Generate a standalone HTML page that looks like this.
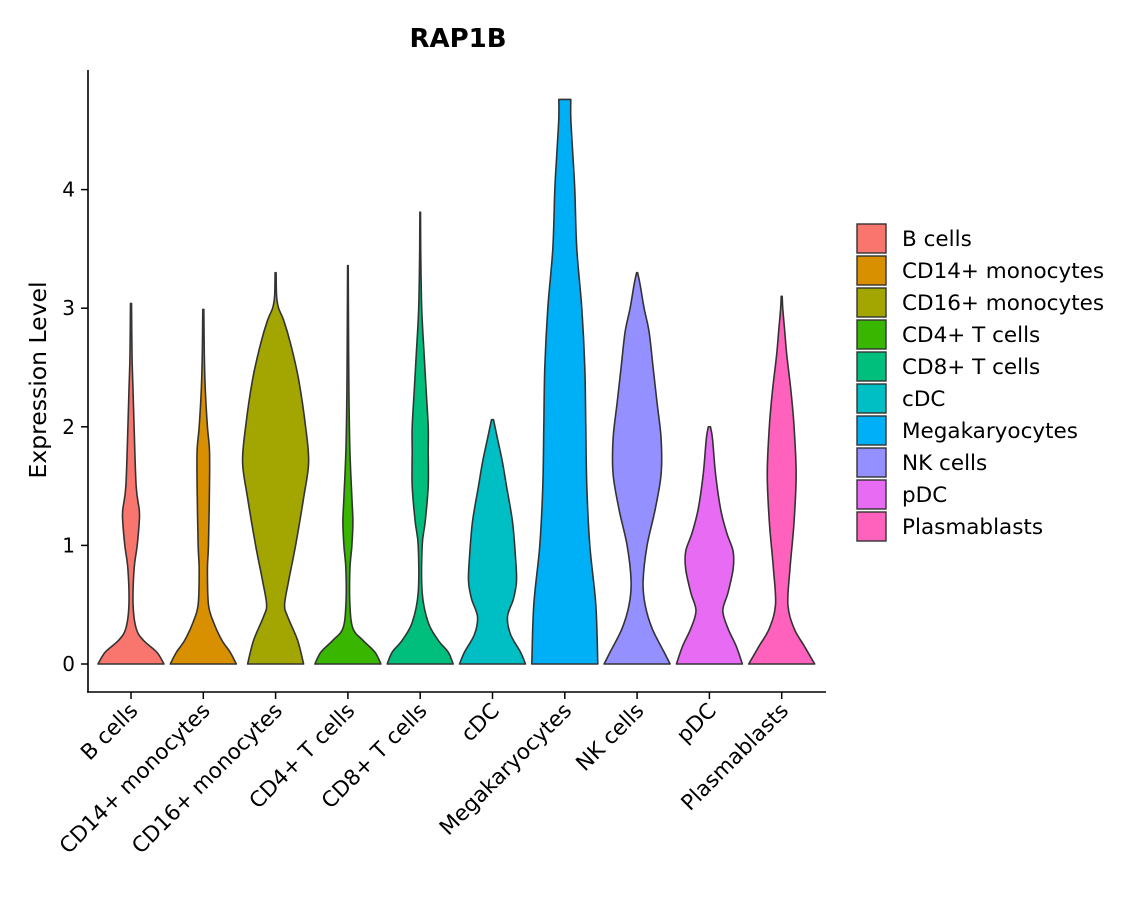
<!DOCTYPE html>
<html><head><meta charset="utf-8"><style>
body{margin:0;background:#fff;}
svg text{font-family:"DejaVu Sans","Liberation Sans",sans-serif;fill:#000;}
</style></head><body>
<svg id="chart" width="1140" height="900" viewBox="0 0 1140 900">
<text x="458" y="47" text-anchor="middle" font-size="26" font-weight="bold">RAP1B</text>
<text transform="translate(46,380) rotate(-90)" text-anchor="middle" font-size="23.5">Expression Level</text>
<g id="plot"></g>
<g id="legend"></g>
</svg>
<script>
const categories=["B cells","CD14+ monocytes","CD16+ monocytes","CD4+ T cells","CD8+ T cells","cDC","Megakaryocytes","NK cells","pDC","Plasmablasts"];
const colors=["#F8766D","#D89000","#A3A500","#39B600","#00BF7D","#00BFC4","#00B0F6","#9590FF","#E76BF3","#FF62BC"];
const yTicks=[0,1,2,3,4];
const levelsB=[0,0.1,0.2,0.3,0.5,0.8,1.0,1.2,1.3,1.5,2.0,2.3,2.6,3.04];
const densB=[32,25,12,5,2,3,6,8,8,5,3,2,1,0.5];
const levelsCD14=[0,0.1,0.2,0.35,0.5,0.8,1.0,1.5,1.8,2.0,2.3,2.6,2.99];
const densCD14=[32,26,18,10,5,4,5,6,6,4,2,1,0.5];
const levelsCD16=[0,0.2,0.4,0.5,0.7,1.0,1.4,1.7,2.0,2.4,2.7,2.9,3.0,3.1,3.3];
const densCD16=[28,22,12,9,13,20,28,33,30,23,15,8,3,1,0.5];
const levelsCD4=[0,0.1,0.2,0.3,0.5,0.8,1.0,1.2,1.4,1.8,2.3,3.0,3.36];
const densCD4=[33,27,15,5,2,2,4,5,4,2,1,0.5,0.3];
const levelsCD8=[0,0.1,0.2,0.35,0.6,1.0,1.2,1.5,1.8,2.0,2.3,2.6,3.0,3.5,3.81];
const densCD8=[33,28,18,8,2,2,5,8,8,8,6,4,1.5,0.5,0.3];
const levelsCDC=[0,0.1,0.25,0.4,0.55,0.7,0.9,1.2,1.5,1.7,1.9,2.06];
const densCDC=[33,28,18,15,21,24,23,20,14,10,5,1];
const levelsMK=[0,0.5,1.0,1.5,2.0,2.5,3.0,3.5,4.0,4.3,4.6,4.76];
const densMK=[33,31,25,22,21,20,17,12,10,8,6,6];
const levelsNK=[0,0.1,0.3,0.5,0.7,1.0,1.3,1.6,1.9,2.2,2.5,2.8,3.0,3.2,3.3];
const densNK=[33,27,15,8,6,10,18,24,24,20,16,12,7,3,0.5];
const levelsPDC=[0,0.15,0.3,0.45,0.6,0.8,0.95,1.1,1.3,1.6,1.9,2.0];
const densPDC=[32,26,18,13,18,23,23,17,11,6,3,1];
const levelsPB=[0,0.15,0.3,0.5,0.8,1.2,1.6,2.0,2.3,2.6,2.8,3.0,3.1];
const densPB=[32,22,12,6,8,12,14,12,9,5,3,1,0.5];
const levels=[levelsB,levelsCD14,levelsCD16,levelsCD4,levelsCD8,levelsCDC,levelsMK,levelsNK,levelsPDC,levelsPB];
const dens=[densB,densCD14,densCD16,densCD4,densCD8,densCDC,densMK,densNK,densPDC,densPB];

const NS="http://www.w3.org/2000/svg";
const y0=664,pxPerUnit=118.6;
const yScale=v=>y0-v*pxPerUnit;
const x0=131,step=72.3;
const xScale=i=>x0+i*step;
const maxHalf=33;
const plot=document.getElementById('plot');
function mk(tag,attrs,parent){const e=document.createElementNS(NS,tag);for(const k in attrs)e.setAttribute(k,attrs[k]);parent.appendChild(e);return e;}

categories.forEach((c,i)=>{
  const lv=levels[i],d=dens[i],m=Math.max(...d),cx=xScale(i);
  const right=lv.map((v,j)=>[cx+d[j]/m*maxHalf,yScale(v)]);
  const left=lv.map((v,j)=>[cx-d[j]/m*maxHalf,yScale(v)]).reverse();
  const n=right.length;
  let path=`M${left[n-1][0]},${left[n-1][1]}`;
  const seg=(pts)=>{
    for(let k=0;k<pts.length-1;k++){
      const p0=pts[Math.max(k-1,0)],p1=pts[k],p2=pts[k+1],p3=pts[Math.min(k+2,pts.length-1)];
      const c1=[p1[0]+(p2[0]-p0[0])/6,p1[1]+(p2[1]-p0[1])/6];
      const c2=[p2[0]-(p3[0]-p1[0])/6,p2[1]-(p3[1]-p1[1])/6];
      path+=` C${c1[0]},${c1[1]} ${c2[0]},${c2[1]} ${p2[0]},${p2[1]}`;
    }
  };
  path+=` L${right[0][0]},${right[0][1]}`;
  seg(right);
  path+=` L${left[0][0]},${left[0][1]}`;
  seg(left);
  path+='Z';
  const v=mk('path',{d:path,fill:colors[i],stroke:'#333','stroke-width':1.6,'stroke-linejoin':'round'},plot);
  
  
  const t=mk('line',{x1:cx,x2:cx,y1:692,y2:699,stroke:'#000','stroke-width':1.5},plot);
  
  
  const lab=mk('text',{transform:`translate(${cx+8},${712}) rotate(-45)`,'text-anchor':'end','font-size':21.5},plot);
  lab.textContent=c;
  
  
});
yTicks.forEach(v=>{
  const y=yScale(v);
  const t=mk('line',{x1:81,x2:88,y1:y,y2:y,stroke:'#000','stroke-width':1.5},plot);
  
  
  const l=mk('text',{x:75,y:y+7,'text-anchor':'end','font-size':20},plot);
  l.textContent=v;
  
  
});
const ax=mk('line',{x1:88,x2:88,y1:70,y2:692.8,stroke:'#000','stroke-width':1.6},plot);


const bx=mk('line',{x1:87.2,x2:826,y1:692,y2:692,stroke:'#000','stroke-width':1.6},plot);



const leg=document.getElementById('legend');
categories.forEach((c,i)=>{
  const y=224+i*32;
  const r=mk('rect',{x:857,y:y,width:29,height:29,fill:colors[i],stroke:'#333','stroke-width':1.4},leg);
  
  
  const t=mk('text',{x:902,y:y+22,'font-size':21.5},leg);
  t.textContent=c;
  
  
});
</script>
</body></html>
